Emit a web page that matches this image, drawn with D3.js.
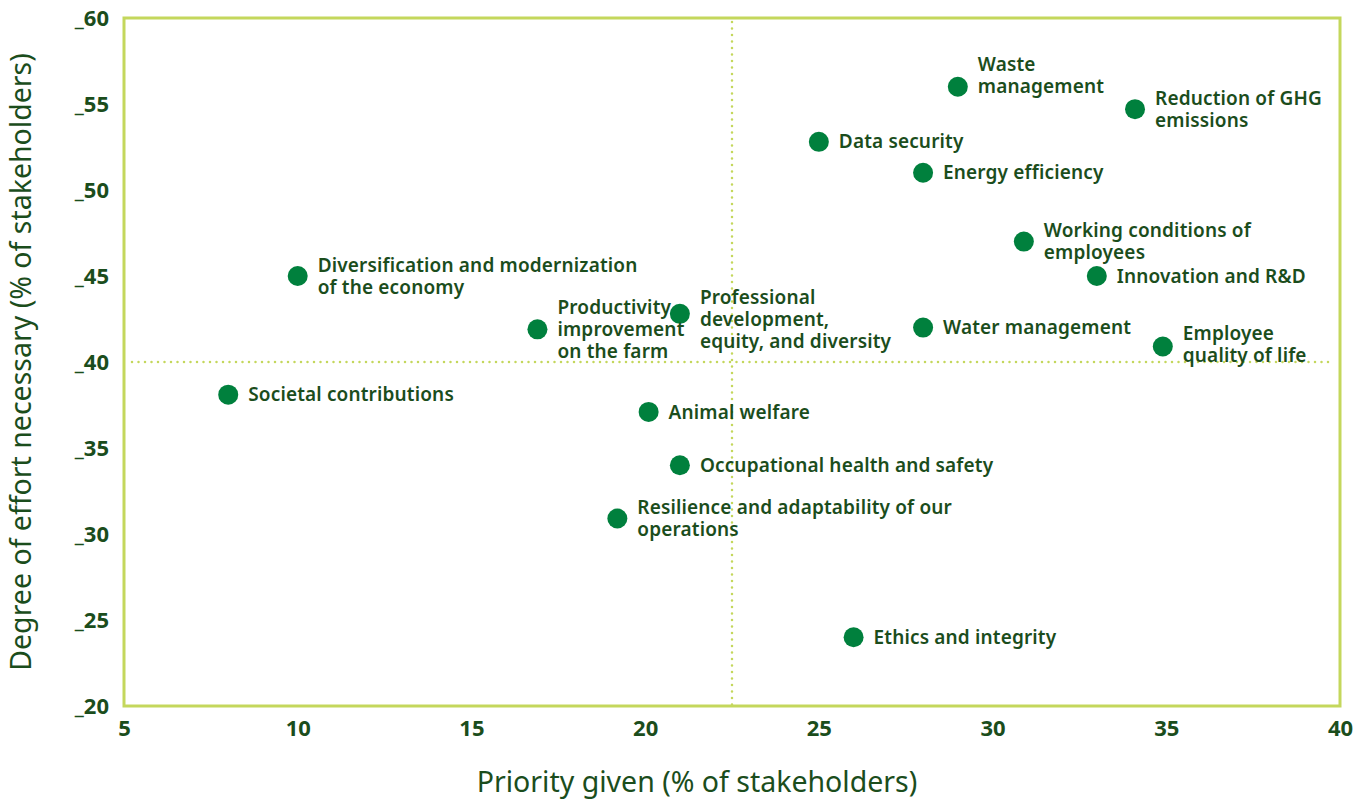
<!DOCTYPE html>
<meta charset="utf-8">
<style>
body { margin: 0; background: #fff; font-family: "Noto Sans", sans-serif; }
.lbl { fill: #1b4d1c; font-weight: 600; font-size: 19px; letter-spacing: 0.15px; }
.title { fill: #1b4d1c; font-size: 28.5px; }
</style>
<body>
<script src="https://d3js.org/d3.v7.min.js"></script>
<script>
// topic names (lines split with |)
var topics = [
  "Waste|management", "Reduction of GHG|emissions", "Data security", "Energy efficiency",
  "Working conditions of|employees", "Innovation and R&D", "Diversification and modernization|of the economy",
  "Productivity|improvement|on the farm", "Professional|development,|equity, and diversity",
  "Water management", "Employee|quality of life", "Societal contributions", "Animal welfare",
  "Occupational health and safety", "Resilience and adaptability of our|operations", "Ethics and integrity"
];
// priority given (% of stakeholders)
var priority = [29.0, 34.1, 25.0, 28.0, 30.9, 33.0, 10.0, 16.9, 21.0, 28.0, 34.9, 8.0, 20.1, 21.0, 19.2, 26.0];
// degree of effort necessary (% of stakeholders)
var effort = [56.0, 54.7, 52.8, 51.0, 47.0, 45.0, 45.0, 41.9, 42.8, 42.0, 40.9, 38.1, 37.1, 34.0, 30.9, 24.0];
var xTicks = [5, 10, 15, 20, 25, 30, 35, 40];
var yTicks = [20, 25, 30, 35, 40, 45, 50, 55, 60];
var xCross = 22.5, yCross = 40;

// label line offset (which line sits on the dot)
var anchorLine = [1, 0.5, 0, 0, 0.5, 0, 0.5, 1, 0.75, 0, 0.6, 0, 0, 0, 0.5, 0];

var W = 1366, H = 803;
var margin = { left: 124, right: 26, top: 18, bottom: 97 };
var width = W - margin.left - margin.right,
    height = H - margin.top - margin.bottom;

var svg = d3.select("body").append("svg")
    .attr("width", W).attr("height", H);
var g = svg.append("g")
    .attr("transform", "translate(" + margin.left + "," + margin.top + ")");

var x = d3.scaleLinear().domain([5, 40]).range([0, width]);
var y = d3.scaleLinear().domain([20, 60]).range([height, 0]);

var lime = "#c4d75c";
var dark = "#1b4d1c";

// quadrant lines
g.append("line")
    .attr("x1", x(xCross)).attr("x2", x(xCross))
    .attr("y1", 4).attr("y2", height)
    .attr("stroke", lime).attr("stroke-width", 2.5)
    .attr("stroke-dasharray", "0,6.5").attr("stroke-linecap", "round");
g.append("line")
    .attr("x1", 8).attr("x2", width - 8)
    .attr("y1", y(yCross)).attr("y2", y(yCross))
    .attr("stroke", lime).attr("stroke-width", 2.5)
    .attr("stroke-dasharray", "0,6.5").attr("stroke-linecap", "round");

// frame
g.append("rect")
    .attr("width", width).attr("height", height)
    .attr("fill", "none").attr("stroke", lime).attr("stroke-width", 3);

// axes
var xAxis = g.append("g")
    .attr("transform", "translate(0," + height + ")")
    .call(d3.axisBottom(x).tickValues(xTicks).tickSize(0).tickPadding(12));
var yAxis = g.append("g")
    .call(d3.axisLeft(y).tickValues(yTicks).tickSize(0).tickPadding(15)
        .tickFormat(function(d) { return "_" + d; }));
[xAxis, yAxis].forEach(function(a) {
  a.select(".domain").remove();
  a.attr("font-size", null).attr("font-family", null);
  a.selectAll("text")
      .attr("font-family", "'Noto Sans', sans-serif")
      .attr("font-size", 22)
      .attr("font-weight", 700)
      .attr("fill", dark);
});
xAxis.selectAll("text").attr("dy", "0.8em");

// axis titles
svg.append("text").attr("class", "title")
    .attr("x", 697).attr("y", 792)
    .attr("text-anchor", "middle")
    .text("Priority given (% of stakeholders)");
svg.append("text").attr("class", "title")
    .attr("transform", "translate(31," + (margin.top + y(yCross)) + ") rotate(-90)")
    .attr("text-anchor", "middle")
    .text("Degree of effort necessary (% of stakeholders)");

// points
var data = topics.map(function(t, i) {
  return { name: t, px: priority[i], py: effort[i], a: anchorLine[i] };
});

g.selectAll("circle.pt").data(data).enter().append("circle")
    .attr("class", "pt")
    .attr("cx", function(d) { return x(d.px); })
    .attr("cy", function(d) { return y(d.py); })
    .attr("r", 10)
    .attr("fill", "#00803d");

var lh = 22;
var lbl = g.selectAll("text.lbl").data(data).enter().append("text")
    .attr("class", "lbl")
    .attr("x", function(d) { return x(d.px) + 20; })
    .attr("y", function(d) { return y(d.py) - d.a * lh; });
lbl.each(function(d) {
  var t = d3.select(this);
  d.name.split("|").forEach(function(s, k) {
    t.append("tspan")
        .attr("x", x(d.px) + 20)
        .attr("dy", k === 0 ? "0.35em" : lh)
        .text(s);
  });
});
</script>
</body>
